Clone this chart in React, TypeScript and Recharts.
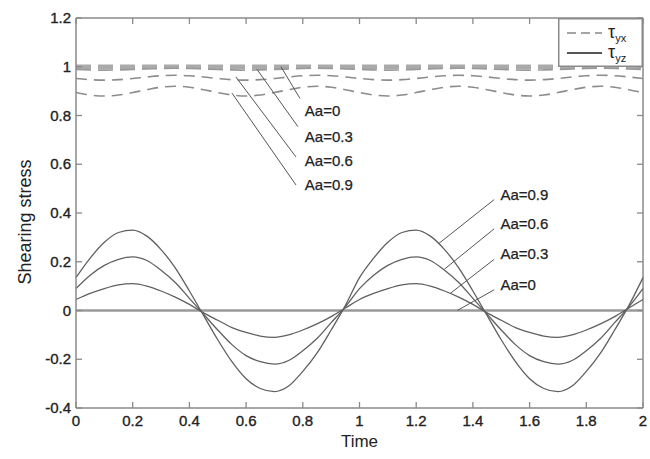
import { LineChart, Line, XAxis, YAxis, ReferenceLine, ReferenceDot, Legend } from 'recharts';

// sample times and read-off values
const times = [
  0, 0.05, 0.1, 0.15, 0.2, 0.25, 0.3, 0.35, 0.4, 0.45,
  0.5, 0.55, 0.6, 0.65, 0.7, 0.75, 0.8, 0.85, 0.9, 0.95,
  1, 1.05, 1.1, 1.15, 1.2, 1.25, 1.3, 1.35, 1.4, 1.45,
  1.5, 1.55, 1.6, 1.65, 1.7, 1.75, 1.8, 1.85, 1.9, 1.95, 2,
];

// tau_yz (solid)
const yzAa0 = [
  0, 0, 0, 0, 0, 0, 0, 0, 0, 0,
  0, 0, 0, 0, 0, 0, 0, 0, 0, 0,
  0, 0, 0, 0, 0, 0, 0, 0, 0, 0,
  0, 0, 0, 0, 0, 0, 0, 0, 0, 0, 0,
];
const yzAa03 = [
  0.045, 0.07, 0.09, 0.105, 0.11, 0.1, 0.08, 0.055, 0.025, -0.01,
  -0.04, -0.07, -0.09, -0.105, -0.11, -0.1, -0.08, -0.055, -0.025, 0.01,
  0.045, 0.07, 0.09, 0.105, 0.11, 0.1, 0.08, 0.055, 0.025, -0.01,
  -0.04, -0.07, -0.09, -0.105, -0.11, -0.1, -0.08, -0.055, -0.025, 0.01, 0.045,
];
const yzAa06 = [
  0.09, 0.145, 0.185, 0.21, 0.22, 0.205, 0.165, 0.115, 0.05, -0.015,
  -0.08, -0.14, -0.185, -0.21, -0.22, -0.205, -0.165, -0.115, -0.05, 0.015,
  0.09, 0.145, 0.185, 0.21, 0.22, 0.205, 0.165, 0.115, 0.05, -0.015,
  -0.08, -0.14, -0.185, -0.21, -0.22, -0.205, -0.165, -0.115, -0.05, 0.015, 0.09,
];
const yzAa09 = [
  0.135, 0.215, 0.28, 0.32, 0.33, 0.305, 0.25, 0.175, 0.08, -0.02,
  -0.12, -0.21, -0.28, -0.32, -0.333, -0.31, -0.25, -0.175, -0.08, 0.02,
  0.135, 0.215, 0.28, 0.32, 0.33, 0.305, 0.25, 0.175, 0.08, -0.02,
  -0.12, -0.21, -0.28, -0.32, -0.333, -0.31, -0.25, -0.175, -0.08, 0.02, 0.135,
];

// tau_yx (dashed)
const yxAa0 = [
  1, 1, 1, 1, 1, 1, 1, 1, 1, 1,
  1, 1, 1, 1, 1, 1, 1, 1, 1, 1,
  1, 1, 1, 1, 1, 1, 1, 1, 1, 1,
  1, 1, 1, 1, 1, 1, 1, 1, 1, 1, 1,
];
const yxAa03 = [
  0.989, 0.987, 0.986, 0.987, 0.989, 0.991, 0.993, 0.994, 0.993, 0.991,
  0.989, 0.987, 0.986, 0.987, 0.989, 0.991, 0.993, 0.994, 0.993, 0.991,
  0.989, 0.987, 0.986, 0.987, 0.989, 0.991, 0.993, 0.994, 0.993, 0.991,
  0.989, 0.987, 0.986, 0.987, 0.989, 0.991, 0.993, 0.994, 0.993, 0.991, 0.989,
];
const yxAa06 = [
  0.952, 0.947, 0.945, 0.947, 0.952, 0.958, 0.963, 0.965, 0.963, 0.958,
  0.952, 0.947, 0.945, 0.947, 0.952, 0.958, 0.963, 0.965, 0.963, 0.958,
  0.952, 0.947, 0.945, 0.947, 0.952, 0.958, 0.963, 0.965, 0.963, 0.958,
  0.952, 0.947, 0.945, 0.947, 0.952, 0.958, 0.963, 0.965, 0.963, 0.958, 0.952,
];
const yxAa09 = [
  0.894, 0.884, 0.88, 0.884, 0.894, 0.906, 0.916, 0.92, 0.916, 0.906,
  0.894, 0.884, 0.88, 0.884, 0.894, 0.906, 0.916, 0.92, 0.916, 0.906,
  0.894, 0.884, 0.88, 0.884, 0.894, 0.906, 0.916, 0.92, 0.916, 0.906,
  0.894, 0.884, 0.88, 0.884, 0.894, 0.906, 0.916, 0.92, 0.916, 0.906, 0.894,
];

const xTicks = [0, 0.2, 0.4, 0.6, 0.8, 1, 1.2, 1.4, 1.6, 1.8, 2];
const yTicks = [-0.4, -0.2, 0, 0.2, 0.4, 0.6, 0.8, 1, 1.2];

// annotation labels: [text, label x, label y, leader from x, y, leader to x, y]
const topNotes: [string, number, number, number, number, number, number][] = [
  ['Aa=0', 0.8, 0.82, 0.79, 0.87, 0.723, 1.0],
  ['Aa=0.3', 0.8, 0.715, 0.783, 0.754, 0.638, 0.99],
  ['Aa=0.6', 0.8, 0.615, 0.776, 0.63, 0.564, 0.958],
  ['Aa=0.9', 0.8, 0.515, 0.776, 0.515, 0.55, 0.892],
];
const rightNotes: [string, number, number, number, number, number, number][] = [
  ['Aa=0.9', 1.49, 0.475, 1.475, 0.455, 1.28, 0.275],
  ['Aa=0.6', 1.49, 0.355, 1.475, 0.335, 1.3, 0.17],
  ['Aa=0.3', 1.49, 0.232, 1.475, 0.21, 1.32, 0.07],
  ['Aa=0', 1.49, 0.108, 1.475, 0.085, 1.345, 0],
];

const data = times.map((t, i) => ({
  t,
  yz0: yzAa0[i],
  yz3: yzAa03[i],
  yz6: yzAa06[i],
  yz9: yzAa09[i],
  yx0: yxAa0[i],
  yx3: yxAa03[i],
  yx6: yxAa06[i],
  yx9: yxAa09[i],
}));

const W = 650;
const H = 459;
const PLOT_LEFT = 76;
const PLOT_RIGHT = 643;
const PLOT_TOP = 18;
const PLOT_BOTTOM = 408;
const FRAME = '#8a8a8a';
const TEXT = '#222';
const FONT = '"Liberation Sans", Arial, sans-serif';

const fmt = (v: number) => String(Math.round(v * 10) / 10);

function XTick(props: any) {
  const { x, y, payload } = props;
  return (
    <g>
      <line x1={x} y1={y} x2={x} y2={y - 6} stroke={FRAME} strokeWidth={1.3} />
      <line x1={x} y1={PLOT_TOP} x2={x} y2={PLOT_TOP + 6} stroke={FRAME} strokeWidth={1.3} />
      <text x={x} y={y + 18} textAnchor="middle" fontSize={15} fill={TEXT} stroke={TEXT} strokeWidth={0.35} fontFamily={FONT}>
        {fmt(payload.value)}
      </text>
    </g>
  );
}

function YTick(props: any) {
  const { x, y, payload } = props;
  return (
    <g>
      <line x1={x} y1={y} x2={x + 6} y2={y} stroke={FRAME} strokeWidth={1.3} />
      <line x1={PLOT_RIGHT} y1={y} x2={PLOT_RIGHT - 6} y2={y} stroke={FRAME} strokeWidth={1.3} />
      <text x={x - 5} y={y + 5} textAnchor="end" fontSize={15} fill={TEXT} stroke={TEXT} strokeWidth={0.35} fontFamily={FONT}>
        {fmt(payload.value)}
      </text>
    </g>
  );
}

function LegendBox() {
  return (
    <svg width={85} height={49} style={{ display: 'block' }}>
      <rect x={0.75} y={0.75} width={83.5} height={47.5} fill="#fff" stroke={FRAME} strokeWidth={1.5} />
      <line x1={9} y1={15} x2={44} y2={15} stroke="#888" strokeWidth={1.6} strokeDasharray="9 5" />
      <text x={50} y={20} fontSize={18} fill={TEXT} fontFamily={FONT}>
        τ<tspan fontSize={11} dy={4}>yx</tspan>
      </text>
      <line x1={9} y1={35} x2={44} y2={35} stroke="#555" strokeWidth={1.8} />
      <text x={50} y={40} fontSize={18} fill={TEXT} fontFamily={FONT}>
        τ<tspan fontSize={11} dy={4}>yz</tspan>
      </text>
    </svg>
  );
}

export default function App() {
  return (
    <div style={{ position: 'absolute', left: 0, top: 0, width: W, height: H, background: '#fff' }}>
      <LineChart
        width={W}
        height={H}
        data={data}
        margin={{ top: PLOT_TOP, right: W - PLOT_RIGHT, bottom: 0, left: 0 }}
      >
        <XAxis
          dataKey="t"
          type="number"
          domain={[0, 2]}
          ticks={xTicks}
          height={H - PLOT_BOTTOM}
          tickSize={0}
          tickMargin={0}
          tickLine={false}
          tick={<XTick />}
          axisLine={{ stroke: FRAME, strokeWidth: 1.5 }}
          interval={0}
          label={{
            content: () => (
              <text x={(PLOT_LEFT + PLOT_RIGHT) / 2} y={447} textAnchor="middle" fontSize={17} fill={TEXT} fontFamily={FONT}>
                Time
              </text>
            ),
          }}
        />
        <YAxis
          type="number"
          domain={[-0.4, 1.2]}
          ticks={yTicks}
          width={PLOT_LEFT}
          tickSize={0}
          tickMargin={0}
          tickLine={false}
          tick={<YTick />}
          axisLine={{ stroke: FRAME, strokeWidth: 1.5 }}
          interval={0}
          allowDataOverflow
          label={{
            content: () => (
              <text x={31} y={222} transform="rotate(-90 31 222)" textAnchor="middle" fontSize={18} fill={TEXT} fontFamily={FONT}>
                Shearing stress
              </text>
            ),
          }}
        />
        <ReferenceLine y={1.2} stroke={FRAME} strokeWidth={1.5} ifOverflow="visible" />
        <ReferenceLine x={2} stroke={FRAME} strokeWidth={1.5} ifOverflow="visible" />

        <Line dataKey="yx0" type="monotone" stroke="#aaa" strokeWidth={4.5} strokeDasharray="15 7" dot={false} isAnimationActive={false} />
        <Line dataKey="yx3" type="monotone" stroke="#999" strokeWidth={1.6} strokeDasharray="15 7" dot={false} isAnimationActive={false} />
        <Line dataKey="yx6" type="monotone" stroke="#8c8c8c" strokeWidth={1.6} strokeDasharray="11 7" dot={false} isAnimationActive={false} />
        <Line dataKey="yx9" type="monotone" stroke="#8c8c8c" strokeWidth={1.6} strokeDasharray="11 7" dot={false} isAnimationActive={false} />

        <Line dataKey="yz0" type="monotone" stroke="#9a9a9a" strokeWidth={2.5} dot={false} isAnimationActive={false} />
        <Line dataKey="yz3" type="monotone" stroke="#606060" strokeWidth={1.3} dot={false} isAnimationActive={false} />
        <Line dataKey="yz6" type="monotone" stroke="#606060" strokeWidth={1.3} dot={false} isAnimationActive={false} />
        <Line dataKey="yz9" type="monotone" stroke="#606060" strokeWidth={1.3} dot={false} isAnimationActive={false} />

        {[...topNotes, ...rightNotes].map(([txt, lx, ly, x1, y1, x2, y2], i) => (
          <ReferenceLine
            key={'l' + i}
            segment={[{ x: x1, y: y1 }, { x: x2, y: y2 }]}
            stroke="#555"
            strokeWidth={1}
          />
        ))}
        {[...topNotes, ...rightNotes].map(([txt, lx, ly], i) => (
          <ReferenceDot
            key={'t' + i}
            x={lx}
            y={ly}
            r={0}
            fill="none"
            stroke="none"
            label={{ value: txt, position: 'right', offset: 2, fontSize: 15, fill: TEXT, stroke: TEXT, strokeWidth: 0.25, fontFamily: FONT }}
          />
        ))}

        <Legend
          layout="horizontal"
          verticalAlign="middle"
          align="center"
          content={() => <LegendBox />}
          wrapperStyle={{ left: 558, top: PLOT_TOP, width: 85, height: 49 }}
        />
      </LineChart>
    </div>
  );
}
